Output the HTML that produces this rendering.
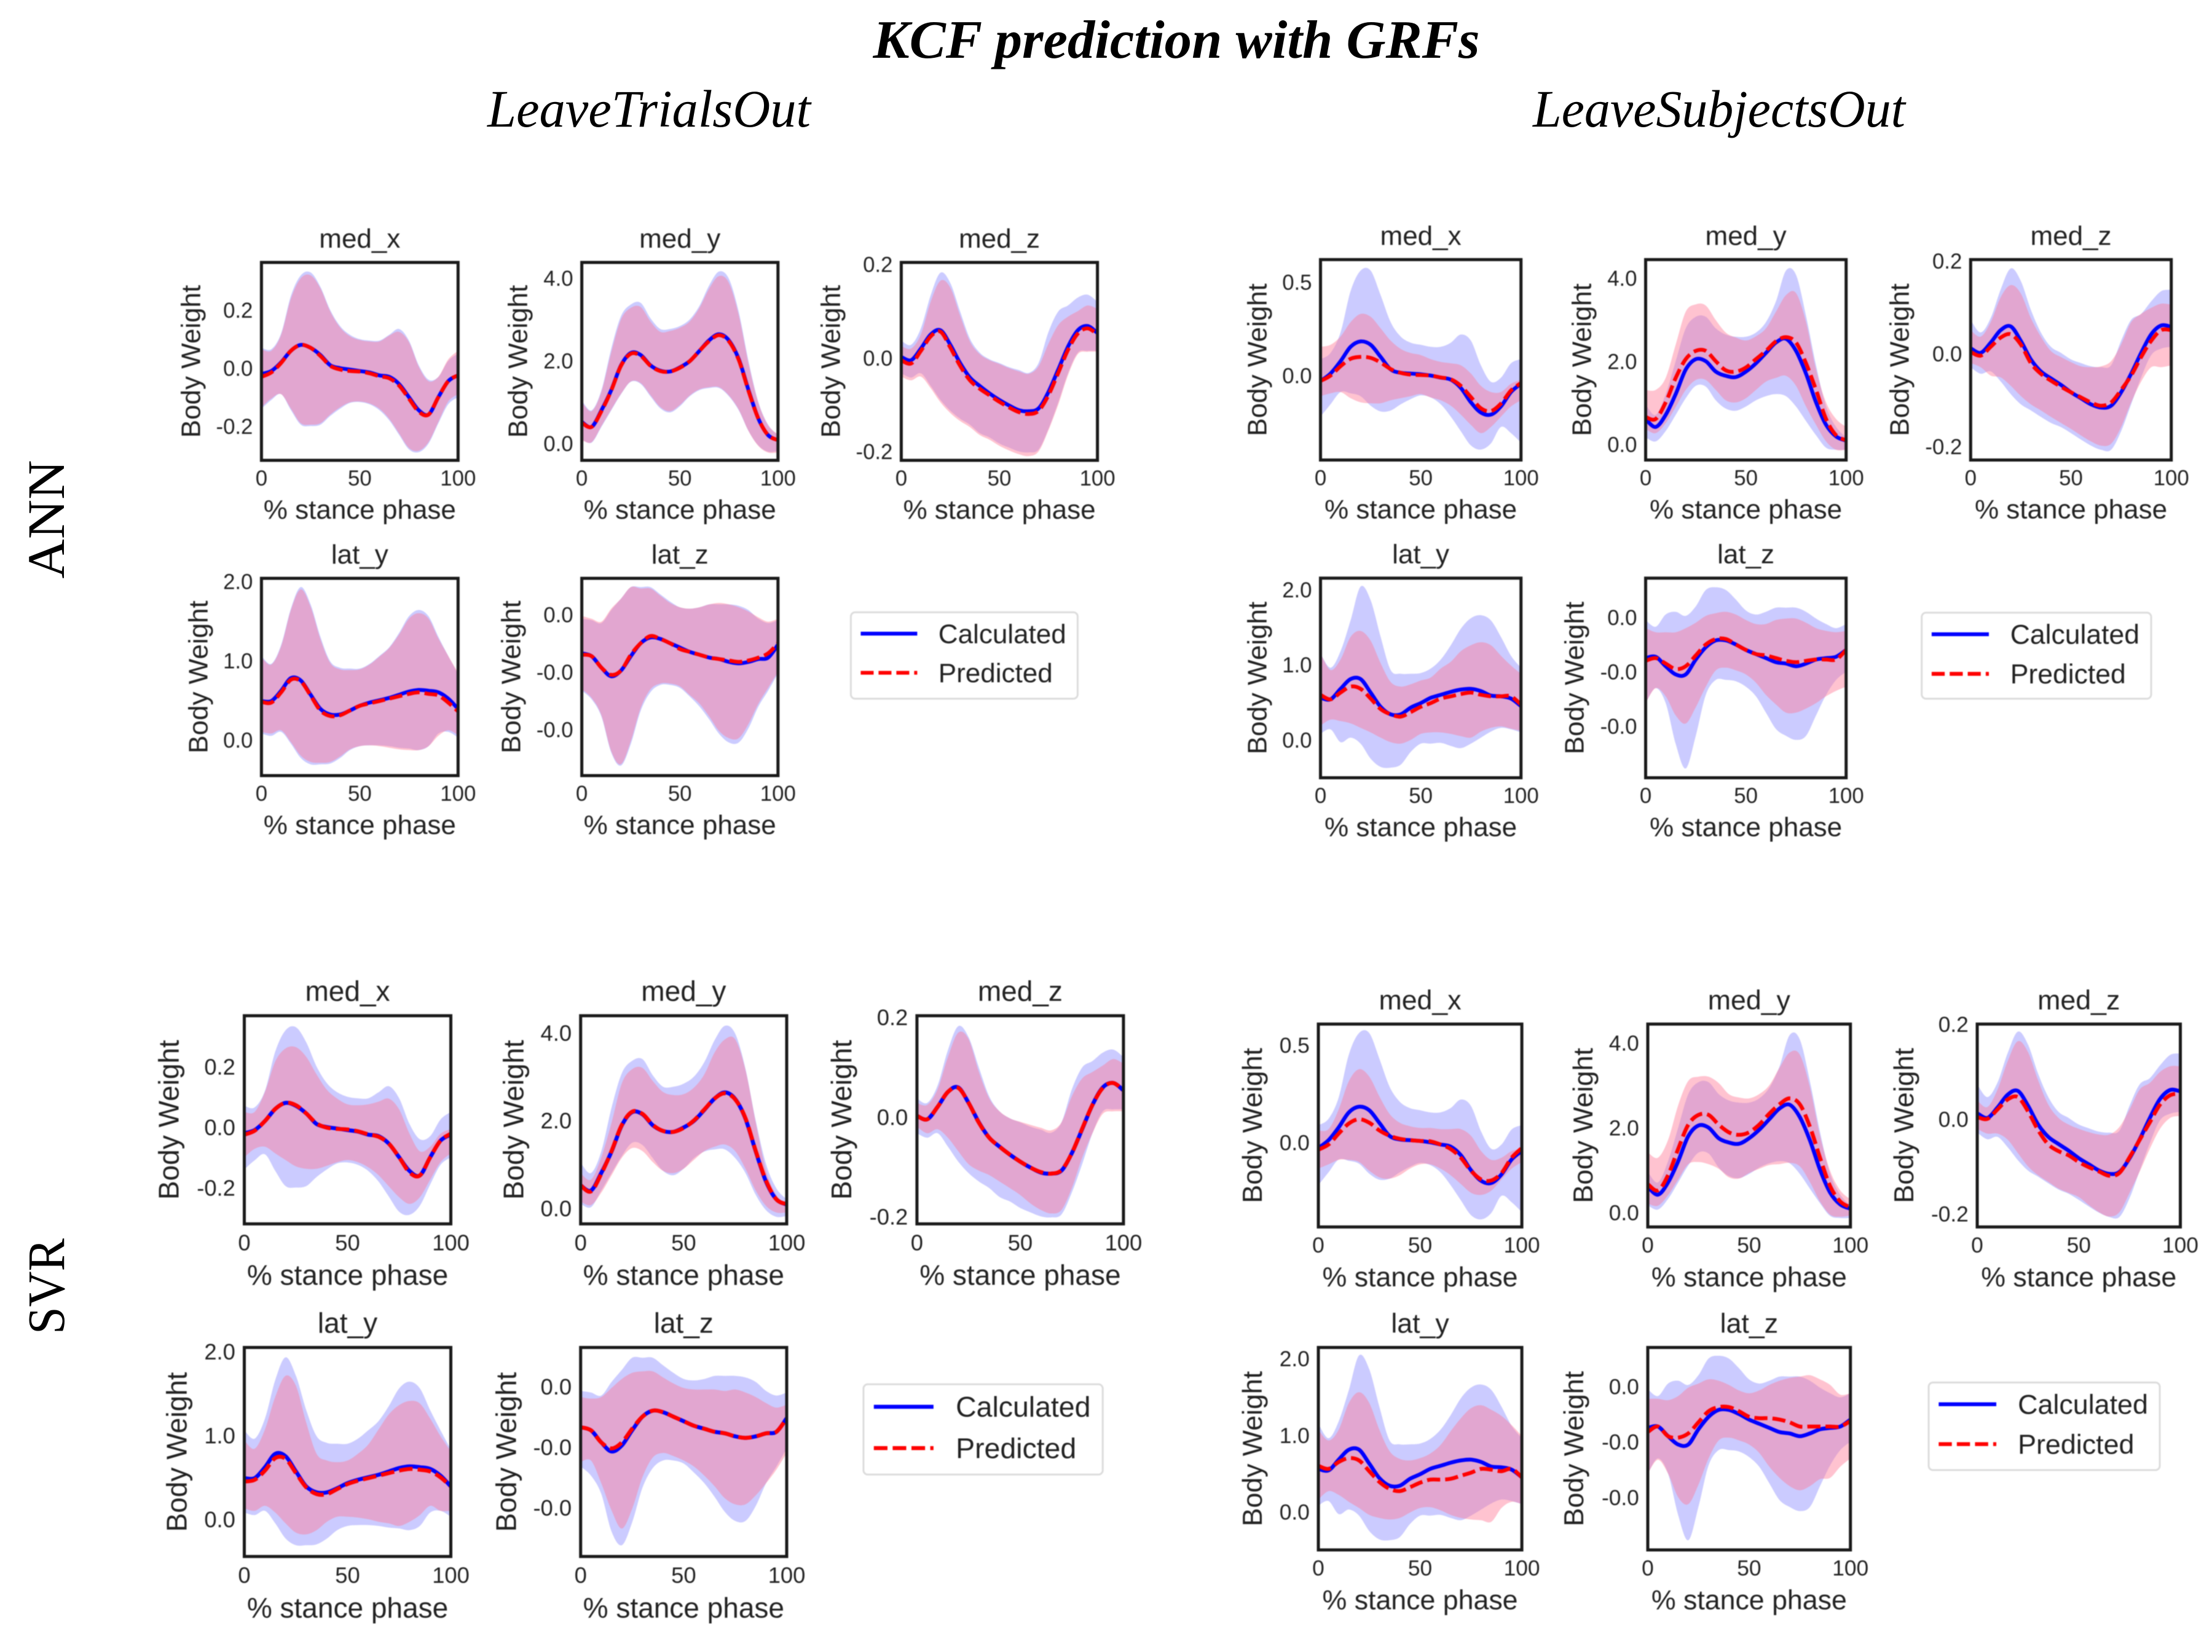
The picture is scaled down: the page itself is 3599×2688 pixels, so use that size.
<!DOCTYPE html>
<html lang="en">
<head>
<meta charset="utf-8">
<title>KCF prediction with GRFs</title>
<style>
html,body{margin:0;padding:0;background:#fff;}
svg{display:block;}
.t{font-family:"Liberation Sans",Arial,sans-serif;fill:#222222;}
.s{font-family:"Liberation Serif",serif;fill:#000;}
</style>
</head>
<body>
<svg id="figure" xmlns="http://www.w3.org/2000/svg" width="3599" height="2688" viewBox="0 0 3599 2688">
<rect x="0" y="0" width="3599" height="2688" fill="#ffffff"/>
<text class="s" x="1914" y="94" font-size="88" font-weight="bold" font-style="italic" text-anchor="middle" textLength="987" lengthAdjust="spacingAndGlyphs">KCF prediction with GRFs</text>
<text class="s" x="1056" y="206" font-size="86" font-style="italic" text-anchor="middle" textLength="526" lengthAdjust="spacingAndGlyphs">LeaveTrialsOut</text>
<text class="s" x="2797" y="206" font-size="86" font-style="italic" text-anchor="middle" textLength="606" lengthAdjust="spacingAndGlyphs">LeaveSubjectsOut</text>
<text class="s" transform="translate(104,845) rotate(-90)" font-size="86" text-anchor="middle" textLength="193" lengthAdjust="spacingAndGlyphs">ANN</text>
<text class="s" transform="translate(104,2093) rotate(-90)" font-size="86" text-anchor="middle" textLength="156" lengthAdjust="spacingAndGlyphs">SVR</text>
<defs id="clips"></defs>
<g id="charts" style="filter:blur(0.9px)"></g>
</svg>
<script>
const stancePct = [0,5,10,15,20,25,30,35,40,45,50,55,60,65,70,75,80,85,90,95,100];
const xTicks = [0,50,100];
const ticksMedXLto = [-0.2,0,0.2];
const ticksMedXLso = [0,0.5];
const ticksMedY = [0,2,4];
const ticksMedZ = [-0.2,0,0.2];
const ticksLatY = [0,1,2];
const ticksLatZ = [-0.08,-0.04,0];
const ticksLatZLabels = ['-0.0','-0.0','0.0'];
const legendLabels = ['Calculated','Predicted'];

/* Calculated, LeaveTrialsOut */
const ltoCalcMedXMean = [-0.02,-0.01,0.02,0.06,0.08,0.07,0.045,0.01,0,-0.005,-0.01,-0.015,-0.025,-0.03,-0.055,-0.1,-0.145,-0.16,-0.1,-0.045,-0.025];
const ltoCalcMedXUp = [0.07,0.065,0.12,0.25,0.32,0.33,0.28,0.2,0.145,0.115,0.1,0.095,0.095,0.115,0.135,0.095,0.01,-0.04,-0.03,0.025,0.05];
const ltoCalcMedXLo = [-0.14,-0.11,-0.09,-0.145,-0.195,-0.2,-0.195,-0.165,-0.14,-0.12,-0.117,-0.125,-0.145,-0.18,-0.23,-0.28,-0.29,-0.26,-0.19,-0.125,-0.1];
const ltoCalcMedYMean = [0.52,0.4,0.8,1.29,1.89,2.19,2.14,1.89,1.76,1.74,1.84,1.99,2.24,2.5,2.64,2.49,2.04,1.29,0.6,0.2,0.08];
const ltoCalcMedYUp = [1.04,0.8,1.29,2.29,3.08,3.36,3.4,3.03,2.77,2.77,2.84,3,3.33,3.83,4.16,3.98,3.18,1.99,1,0.45,0.2];
const ltoCalcMedYLo = [0.1,0.02,0.4,0.8,1.19,1.49,1.44,1.14,0.85,0.75,0.9,1.14,1.29,1.34,1.34,1.14,0.8,0.3,-0.05,-0.2,-0.18];
const ltoCalcMedZMean = [0.002,-0.005,0.02,0.05,0.059,0.028,-0.011,-0.042,-0.06,-0.076,-0.09,-0.102,-0.112,-0.114,-0.108,-0.073,-0.025,0.024,0.059,0.068,0.053];
const ltoCalcMedZUp = [0.037,0.028,0.063,0.134,0.182,0.16,0.099,0.041,0.011,-0.003,-0.011,-0.02,-0.026,-0.032,-0.011,0.055,0.099,0.112,0.129,0.135,0.12];
const ltoCalcMedZLo = [-0.033,-0.042,-0.033,-0.06,-0.09,-0.113,-0.13,-0.143,-0.161,-0.17,-0.183,-0.192,-0.2,-0.202,-0.196,-0.152,-0.095,-0.033,0.011,0.015,0.015];
const ltoCalcLatYMean = [0.49,0.49,0.62,0.78,0.75,0.57,0.39,0.32,0.32,0.37,0.43,0.47,0.5,0.53,0.57,0.61,0.63,0.62,0.6,0.52,0.39];
const ltoCalcLatYUp = [1.06,0.96,1.2,1.66,1.93,1.71,1.3,0.99,0.91,0.9,0.9,0.96,1.06,1.17,1.35,1.56,1.64,1.56,1.3,1.06,0.83];
const ltoCalcLatYLo = [0.08,0.05,0.1,-0.05,-0.23,-0.31,-0.31,-0.3,-0.23,-0.13,-0.08,-0.07,-0.07,-0.08,-0.1,-0.11,-0.13,-0.08,0.08,0.1,0.03];
const ltoCalcLatZMean = [-0.027,-0.029,-0.037,-0.043,-0.039,-0.029,-0.02,-0.016,-0.017,-0.02,-0.023,-0.026,-0.028,-0.03,-0.031,-0.033,-0.034,-0.033,-0.031,-0.03,-0.021];
const ltoCalcLatZUp = [-0.003,-0.004,-0.006,0.003,0.011,0.019,0.019,0.019,0.014,0.009,0.005,0.004,0.005,0.007,0.007,0.007,0.006,0.003,-0.003,-0.006,-0.004];
const ltoCalcLatZLo = [-0.053,-0.059,-0.071,-0.096,-0.105,-0.09,-0.067,-0.054,-0.049,-0.049,-0.051,-0.057,-0.064,-0.073,-0.083,-0.089,-0.089,-0.079,-0.064,-0.053,-0.041];

/* Calculated, LeaveSubjectsOut */
const lsoCalcMedXMean = [-0.029,0.011,0.077,0.154,0.183,0.165,0.1,0.033,0.015,0.011,0.007,0,-0.011,-0.022,-0.066,-0.143,-0.198,-0.209,-0.165,-0.088,-0.044];
const lsoCalcMedXUp = [0.088,0.121,0.231,0.452,0.562,0.562,0.43,0.286,0.209,0.176,0.165,0.154,0.154,0.176,0.22,0.187,0.055,-0.033,-0.011,0.066,0.088];
const lsoCalcMedXLo = [-0.22,-0.154,-0.088,-0.095,-0.11,-0.161,-0.192,-0.187,-0.154,-0.126,-0.106,-0.117,-0.154,-0.22,-0.298,-0.374,-0.396,-0.363,-0.275,-0.308,-0.359];
const lsoCalcMedYMean = [0.61,0.42,0.71,1.21,1.8,2.05,2,1.75,1.65,1.62,1.75,1.95,2.2,2.45,2.54,2.25,1.7,1.01,0.47,0.19,0.09];
const lsoCalcMedYUp = [0.96,0.71,1.21,2,2.79,3.07,3.07,2.79,2.64,2.59,2.59,2.69,2.94,3.44,4.18,4.08,3.09,1.9,0.91,0.42,0.17];
const lsoCalcMedYLo = [0.17,0.07,0.32,0.71,1.11,1.41,1.39,1.06,0.86,0.81,0.91,1.06,1.16,1.21,1.16,0.91,0.56,0.22,-0.08,-0.13,-0.13];
const lsoCalcMedZMean = [0.012,0.002,0.024,0.051,0.059,0.028,-0.012,-0.038,-0.053,-0.067,-0.083,-0.096,-0.109,-0.116,-0.112,-0.083,-0.043,0.002,0.042,0.061,0.058];
const lsoCalcMedZUp = [0.073,0.046,0.077,0.139,0.184,0.157,0.095,0.046,0.015,0.002,-0.012,-0.02,-0.027,-0.029,-0.025,0.028,0.073,0.086,0.113,0.135,0.138];
const lsoCalcMedZLo = [-0.029,-0.043,-0.038,-0.06,-0.087,-0.109,-0.122,-0.136,-0.149,-0.158,-0.171,-0.185,-0.198,-0.207,-0.207,-0.167,-0.109,-0.051,-0.003,0.011,0.015];
const lsoCalcLatYMean = [0.56,0.54,0.68,0.81,0.81,0.63,0.44,0.34,0.34,0.43,0.49,0.56,0.6,0.64,0.67,0.68,0.65,0.59,0.58,0.55,0.45];
const lsoCalcLatYUp = [1.15,0.96,1.18,1.59,2.04,1.86,1.37,0.93,0.88,0.88,0.89,0.95,1.07,1.26,1.48,1.62,1.66,1.59,1.37,1.12,0.96];
const lsoCalcLatYLo = [0.08,0.14,-0.03,0.03,-0.05,-0.25,-0.36,-0.37,-0.33,-0.16,-0.05,-0.05,-0.04,-0.08,-0.11,-0.05,0.03,0.11,0.16,0.14,0.1];
const lsoCalcLatZMean = [-0.03,-0.029,-0.036,-0.042,-0.042,-0.031,-0.022,-0.017,-0.017,-0.02,-0.024,-0.027,-0.03,-0.033,-0.034,-0.036,-0.034,-0.031,-0.03,-0.029,-0.024];
const lsoCalcLatZUp = [-0.002,-0.007,0.002,0.004,0.001,0.008,0.02,0.022,0.02,0.013,0.005,0.002,0.004,0.007,0.007,0.007,0.004,-0.001,-0.005,-0.008,-0.005];
const lsoCalcLatZLo = [-0.063,-0.052,-0.063,-0.093,-0.111,-0.087,-0.057,-0.046,-0.046,-0.047,-0.051,-0.058,-0.07,-0.082,-0.087,-0.09,-0.087,-0.072,-0.057,-0.046,-0.04];

/* Predicted, ANN LeaveTrialsOut */
const annLtoPredMedXMean = [-0.03,-0.015,0.018,0.06,0.08,0.07,0.042,0.008,-0.005,-0.01,-0.012,-0.018,-0.028,-0.035,-0.06,-0.105,-0.15,-0.16,-0.1,-0.045,-0.025];
const annLtoPredMedXUp = [0.065,0.06,0.115,0.24,0.31,0.32,0.275,0.195,0.14,0.11,0.097,0.092,0.092,0.112,0.125,0.09,0.005,-0.045,-0.03,0.03,0.06];
const annLtoPredMedXLo = [-0.135,-0.105,-0.09,-0.14,-0.19,-0.195,-0.19,-0.16,-0.135,-0.118,-0.115,-0.122,-0.14,-0.175,-0.225,-0.275,-0.285,-0.255,-0.185,-0.115,-0.09];
const annLtoPredMedYMean = [0.5,0.4,0.78,1.28,1.88,2.17,2.12,1.88,1.75,1.74,1.83,1.99,2.24,2.48,2.62,2.47,2.02,1.27,0.6,0.2,0.08];
const annLtoPredMedYUp = [1,0.78,1.25,2.2,3,3.28,3.3,2.95,2.7,2.72,2.8,2.95,3.28,3.75,4.05,3.88,3.1,1.93,0.98,0.44,0.22];
const annLtoPredMedYLo = [0.08,0.03,0.42,0.82,1.2,1.5,1.46,1.17,0.88,0.78,0.93,1.16,1.31,1.36,1.36,1.16,0.82,0.3,-0.06,-0.22,-0.22];
const annLtoPredMedZMean = [-0.005,-0.012,0.015,0.046,0.056,0.022,-0.017,-0.048,-0.066,-0.08,-0.094,-0.106,-0.116,-0.12,-0.113,-0.08,-0.032,0.017,0.052,0.063,0.05];
const annLtoPredMedZUp = [0.025,0.02,0.05,0.12,0.165,0.15,0.09,0.035,0.008,-0.005,-0.013,-0.022,-0.029,-0.034,-0.018,0.03,0.07,0.088,0.1,0.112,0.105];
const annLtoPredMedZLo = [-0.04,-0.048,-0.04,-0.065,-0.095,-0.118,-0.135,-0.148,-0.165,-0.175,-0.188,-0.198,-0.206,-0.21,-0.2,-0.155,-0.1,-0.037,0.008,0.013,0.013];
const annLtoPredLatYMean = [0.48,0.47,0.6,0.76,0.74,0.56,0.37,0.3,0.31,0.37,0.43,0.46,0.49,0.52,0.55,0.58,0.6,0.58,0.56,0.47,0.36];
const annLtoPredLatYUp = [1.04,0.95,1.18,1.64,1.9,1.68,1.27,0.97,0.89,0.88,0.89,0.95,1.05,1.16,1.33,1.53,1.6,1.53,1.28,1.06,0.85];
const annLtoPredLatYLo = [0.1,0.08,0.12,-0.03,-0.2,-0.28,-0.29,-0.28,-0.21,-0.12,-0.08,-0.07,-0.08,-0.1,-0.12,-0.13,-0.13,-0.08,0.05,0.12,0.06];
const annLtoPredLatZMean = [-0.028,-0.029,-0.037,-0.042,-0.039,-0.028,-0.02,-0.015,-0.017,-0.02,-0.024,-0.026,-0.028,-0.03,-0.031,-0.032,-0.033,-0.032,-0.03,-0.027,-0.02];
const annLtoPredLatZUp = [-0.001,-0.003,-0.005,0.004,0.011,0.019,0.018,0.018,0.013,0.008,0.005,0.004,0.005,0.007,0.008,0.007,0.005,0.002,-0.002,-0.005,-0.003];
const annLtoPredLatZLo = [-0.052,-0.058,-0.07,-0.095,-0.104,-0.088,-0.065,-0.052,-0.048,-0.048,-0.05,-0.056,-0.062,-0.071,-0.081,-0.086,-0.086,-0.076,-0.062,-0.051,-0.04];

/* Predicted, ANN LeaveSubjectsOut */
const annLsoPredMedXMean = [-0.029,0,0.05,0.09,0.1,0.095,0.07,0.035,0.015,0.005,0.003,0,-0.01,-0.02,-0.055,-0.115,-0.175,-0.19,-0.15,-0.08,-0.04];
const annLsoPredMedXUp = [0.154,0.165,0.209,0.286,0.33,0.315,0.253,0.187,0.143,0.121,0.11,0.088,0.073,0.066,0.055,0.011,-0.055,-0.088,-0.088,-0.044,-0.022];
const annLsoPredMedXLo = [-0.11,-0.095,-0.088,-0.121,-0.143,-0.148,-0.148,-0.132,-0.121,-0.11,-0.099,-0.117,-0.132,-0.161,-0.209,-0.264,-0.308,-0.275,-0.22,-0.165,-0.132];
const annLsoPredMedYMean = [0.66,0.61,1.01,1.6,2.05,2.25,2.25,2,1.78,1.75,1.85,2.05,2.25,2.48,2.58,2.45,1.95,1.31,0.61,0.22,0.1];
const annLsoPredMedYUp = [1.31,1.31,1.6,2.4,3.19,3.37,3.34,2.99,2.69,2.57,2.5,2.6,2.79,3.19,3.59,3.64,2.94,1.8,1.01,0.61,0.42];
const annLsoPredMedYLo = [0.37,0.27,0.51,0.9,1.31,1.55,1.55,1.31,1.06,1.01,1.11,1.31,1.51,1.6,1.65,1.41,0.91,0.47,0.07,-0.13,-0.13];
const annLsoPredMedZMean = [0.004,-0.004,0.015,0.035,0.042,0.02,-0.02,-0.043,-0.058,-0.071,-0.083,-0.094,-0.105,-0.112,-0.105,-0.078,-0.047,-0.007,0.028,0.051,0.051];
const annLsoPredMedZUp = [0.051,0.037,0.068,0.122,0.148,0.13,0.077,0.037,0.006,-0.007,-0.018,-0.027,-0.029,-0.027,-0.016,0.02,0.068,0.086,0.099,0.108,0.106];
const annLsoPredMedZLo = [-0.02,-0.029,-0.047,-0.051,-0.069,-0.091,-0.109,-0.122,-0.136,-0.149,-0.162,-0.176,-0.189,-0.198,-0.194,-0.158,-0.105,-0.06,-0.029,-0.029,-0.025];
const annLsoPredLatYMean = [0.6,0.54,0.63,0.71,0.68,0.55,0.41,0.34,0.31,0.37,0.44,0.49,0.55,0.58,0.61,0.63,0.6,0.58,0.58,0.58,0.47];
const annLsoPredLatYUp = [1.15,0.93,1.07,1.37,1.45,1.32,1.02,0.77,0.71,0.74,0.79,0.83,0.95,1.04,1.18,1.26,1.3,1.26,1.12,0.99,0.88];
const annLsoPredLatYLo = [0.19,0.27,0.25,0.22,0.16,0.1,0.03,-0.03,-0.05,0,0.08,0.1,0.1,0.08,0.05,0.03,0.11,0.16,0.18,0.15,0.12];
const annLsoPredLatZMean = [-0.032,-0.03,-0.034,-0.038,-0.036,-0.028,-0.02,-0.016,-0.016,-0.02,-0.024,-0.027,-0.028,-0.03,-0.032,-0.033,-0.032,-0.031,-0.031,-0.031,-0.024];
const annLsoPredLatZUp = [-0.008,-0.011,-0.011,-0.011,-0.008,-0.004,0.001,0.003,0.004,0.002,-0.002,-0.005,-0.005,-0.002,-0.001,-0.001,-0.004,-0.008,-0.01,-0.011,-0.01];
const annLsoPredLatZLo = [-0.063,-0.052,-0.058,-0.072,-0.078,-0.066,-0.051,-0.039,-0.037,-0.039,-0.042,-0.048,-0.057,-0.064,-0.07,-0.07,-0.067,-0.063,-0.058,-0.054,-0.051];

/* Predicted, SVR LeaveTrialsOut */
const svrLtoPredMedXMean = [-0.025,-0.012,0.02,0.06,0.08,0.072,0.045,0.012,-0.002,-0.006,-0.008,-0.014,-0.024,-0.032,-0.055,-0.1,-0.15,-0.16,-0.1,-0.045,-0.022];
const svrLtoPredMedXUp = [0.05,0.05,0.116,0.217,0.26,0.264,0.232,0.174,0.123,0.094,0.075,0.072,0.075,0.084,0.094,0.058,-0.022,-0.08,-0.065,-0.022,-0.007];
const svrLtoPredMedXLo = [-0.1,-0.072,-0.065,-0.087,-0.109,-0.13,-0.138,-0.138,-0.128,-0.116,-0.109,-0.116,-0.133,-0.159,-0.196,-0.232,-0.254,-0.232,-0.174,-0.116,-0.087];
const svrLtoPredMedYMean = [0.52,0.38,0.78,1.3,1.9,2.2,2.15,1.9,1.76,1.74,1.83,2,2.25,2.5,2.62,2.48,2.05,1.3,0.62,0.2,0.09];
const svrLtoPredMedYUp = [0.8,0.65,1.15,1.95,2.85,3.17,3.2,2.9,2.65,2.58,2.6,2.75,3.05,3.55,3.85,3.85,3.15,1.95,0.85,0.3,0.1];
const svrLtoPredMedYLo = [0.15,0.07,0.35,0.75,1.15,1.37,1.3,1.05,0.85,0.8,0.9,1.1,1.3,1.4,1.45,1.3,0.9,0.4,0.05,-0.1,-0.1];
const svrLtoPredMedZMean = [0.002,-0.005,0.02,0.05,0.058,0.028,-0.012,-0.042,-0.06,-0.076,-0.09,-0.102,-0.111,-0.114,-0.107,-0.073,-0.024,0.024,0.058,0.068,0.053];
const svrLtoPredMedZUp = [0.028,0.024,0.055,0.12,0.169,0.156,0.09,0.037,0.011,-0.003,-0.01,-0.016,-0.022,-0.027,-0.011,0.041,0.077,0.09,0.103,0.116,0.107];
const svrLtoPredMedZLo = [-0.02,-0.033,-0.025,-0.042,-0.069,-0.095,-0.108,-0.117,-0.13,-0.143,-0.157,-0.174,-0.187,-0.194,-0.187,-0.143,-0.082,-0.033,0.006,0.011,0.011];
const svrLtoPredLatYMean = [0.45,0.47,0.58,0.73,0.72,0.55,0.38,0.3,0.3,0.36,0.42,0.46,0.49,0.52,0.55,0.58,0.6,0.59,0.57,0.5,0.39];
const svrLtoPredLatYUp = [0.94,0.84,1.07,1.46,1.71,1.59,1.15,0.78,0.7,0.68,0.7,0.78,0.89,1.07,1.25,1.36,1.41,1.38,1.2,0.99,0.81];
const svrLtoPredLatYLo = [0.13,0.1,0.16,0.08,-0.05,-0.16,-0.18,-0.13,-0.03,0.03,0.03,0.02,0,-0.03,-0.05,-0.08,-0.03,0.05,0.16,0.1,0.1];
const svrLtoPredLatZMean = [-0.027,-0.029,-0.037,-0.041,-0.037,-0.028,-0.02,-0.016,-0.017,-0.02,-0.023,-0.026,-0.028,-0.03,-0.031,-0.033,-0.034,-0.033,-0.031,-0.03,-0.021];
const svrLtoPredLatZUp = [-0.007,-0.008,-0.007,-0.001,0.005,0.009,0.01,0.01,0.006,0.002,-0.001,-0.002,-0.002,-0.002,-0.003,-0.002,-0.004,-0.007,-0.011,-0.014,-0.012];
const svrLtoPredLatZLo = [-0.05,-0.049,-0.064,-0.082,-0.094,-0.081,-0.06,-0.047,-0.044,-0.046,-0.049,-0.053,-0.059,-0.066,-0.074,-0.078,-0.078,-0.072,-0.064,-0.055,-0.044];

/* Predicted, SVR LeaveSubjectsOut */
const svrLsoPredMedXMean = [-0.038,-0.011,0.045,0.097,0.119,0.101,0.061,0.034,0.018,0.011,0.007,0.005,-0.011,-0.034,-0.079,-0.146,-0.191,-0.196,-0.158,-0.079,-0.029];
const svrLsoPredMedXUp = [0.061,0.068,0.169,0.315,0.376,0.338,0.236,0.146,0.101,0.083,0.074,0.074,0.068,0.068,0.068,0.034,-0.045,-0.09,-0.079,-0.045,-0.034];
const svrLsoPredMedXLo = [-0.135,-0.113,-0.09,-0.09,-0.101,-0.146,-0.18,-0.187,-0.169,-0.135,-0.113,-0.113,-0.135,-0.169,-0.214,-0.259,-0.27,-0.248,-0.191,-0.135,-0.101];
const svrLsoPredMedYMean = [0.67,0.52,0.88,1.5,2.07,2.3,2.3,2.07,1.89,1.83,1.89,2.07,2.33,2.55,2.69,2.55,2.02,1.29,0.62,0.26,0.12];
const svrLsoPredMedYUp = [1.42,1.29,1.71,2.53,3.1,3.2,3.2,3.05,2.79,2.71,2.69,2.79,3,3.41,3.77,3.72,2.95,1.81,0.98,0.52,0.31];
const svrLsoPredMedYLo = [0.21,0.16,0.41,0.78,1.14,1.19,1.14,1.03,0.83,0.8,0.93,1.03,1.12,1.14,1.17,1.09,0.72,0.26,-0.05,-0.1,-0.07];
const svrLsoPredMedZMean = [0.004,0,0.02,0.041,0.046,0.016,-0.024,-0.054,-0.068,-0.077,-0.091,-0.102,-0.111,-0.12,-0.114,-0.081,-0.044,-0.007,0.03,0.05,0.053];
const svrLsoPredMedZUp = [0.039,0.025,0.062,0.122,0.164,0.141,0.081,0.03,0.002,-0.012,-0.021,-0.028,-0.033,-0.033,-0.017,0.02,0.062,0.076,0.099,0.111,0.111];
const svrLsoPredMedZLo = [-0.021,-0.031,-0.031,-0.044,-0.072,-0.1,-0.119,-0.133,-0.147,-0.156,-0.165,-0.182,-0.197,-0.206,-0.197,-0.156,-0.111,-0.063,-0.021,0.002,0.006];
const svrLsoPredLatYMean = [0.6,0.56,0.65,0.7,0.67,0.53,0.39,0.3,0.27,0.32,0.38,0.42,0.42,0.43,0.47,0.51,0.56,0.55,0.53,0.56,0.45];
const svrLsoPredLatYUp = [1.07,0.93,1.07,1.42,1.56,1.42,1.07,0.79,0.69,0.67,0.7,0.76,0.87,1.05,1.22,1.35,1.39,1.33,1.25,1.13,0.99];
const svrLsoPredLatYLo = [0.16,0.27,0.22,0.13,0.05,-0.04,-0.08,-0.1,-0.08,-0.01,0.05,0.06,0.02,-0.04,-0.08,-0.1,-0.11,-0.13,0.05,0.13,0.1];
const svrLsoPredLatZMean = [-0.033,-0.029,-0.036,-0.037,-0.034,-0.026,-0.018,-0.015,-0.015,-0.018,-0.022,-0.023,-0.023,-0.024,-0.026,-0.029,-0.029,-0.029,-0.029,-0.029,-0.025];
const svrLsoPredLatZUp = [-0.009,-0.009,-0.01,-0.007,-0.001,0.002,0.005,0.004,0.001,-0.003,-0.005,-0.003,0.001,0.004,0.006,0.007,0.008,0.005,0.001,-0.006,-0.005];
const svrLsoPredLatZLo = [-0.063,-0.053,-0.063,-0.08,-0.085,-0.071,-0.052,-0.039,-0.037,-0.039,-0.042,-0.048,-0.058,-0.066,-0.072,-0.075,-0.072,-0.067,-0.066,-0.058,-0.052];

const ltoCalc = {
  med_x:[ltoCalcMedXMean,ltoCalcMedXUp,ltoCalcMedXLo],
  med_y:[ltoCalcMedYMean,ltoCalcMedYUp,ltoCalcMedYLo],
  med_z:[ltoCalcMedZMean,ltoCalcMedZUp,ltoCalcMedZLo],
  lat_y:[ltoCalcLatYMean,ltoCalcLatYUp,ltoCalcLatYLo],
  lat_z:[ltoCalcLatZMean,ltoCalcLatZUp,ltoCalcLatZLo]
};
const lsoCalc = {
  med_x:[lsoCalcMedXMean,lsoCalcMedXUp,lsoCalcMedXLo],
  med_y:[lsoCalcMedYMean,lsoCalcMedYUp,lsoCalcMedYLo],
  med_z:[lsoCalcMedZMean,lsoCalcMedZUp,lsoCalcMedZLo],
  lat_y:[lsoCalcLatYMean,lsoCalcLatYUp,lsoCalcLatYLo],
  lat_z:[lsoCalcLatZMean,lsoCalcLatZUp,lsoCalcLatZLo]
};
const annLtoPred = {
  med_x:[annLtoPredMedXMean,annLtoPredMedXUp,annLtoPredMedXLo],
  med_y:[annLtoPredMedYMean,annLtoPredMedYUp,annLtoPredMedYLo],
  med_z:[annLtoPredMedZMean,annLtoPredMedZUp,annLtoPredMedZLo],
  lat_y:[annLtoPredLatYMean,annLtoPredLatYUp,annLtoPredLatYLo],
  lat_z:[annLtoPredLatZMean,annLtoPredLatZUp,annLtoPredLatZLo]
};
const annLsoPred = {
  med_x:[annLsoPredMedXMean,annLsoPredMedXUp,annLsoPredMedXLo],
  med_y:[annLsoPredMedYMean,annLsoPredMedYUp,annLsoPredMedYLo],
  med_z:[annLsoPredMedZMean,annLsoPredMedZUp,annLsoPredMedZLo],
  lat_y:[annLsoPredLatYMean,annLsoPredLatYUp,annLsoPredLatYLo],
  lat_z:[annLsoPredLatZMean,annLsoPredLatZUp,annLsoPredLatZLo]
};
const svrLtoPred = {
  med_x:[svrLtoPredMedXMean,svrLtoPredMedXUp,svrLtoPredMedXLo],
  med_y:[svrLtoPredMedYMean,svrLtoPredMedYUp,svrLtoPredMedYLo],
  med_z:[svrLtoPredMedZMean,svrLtoPredMedZUp,svrLtoPredMedZLo],
  lat_y:[svrLtoPredLatYMean,svrLtoPredLatYUp,svrLtoPredLatYLo],
  lat_z:[svrLtoPredLatZMean,svrLtoPredLatZUp,svrLtoPredLatZLo]
};
const svrLsoPred = {
  med_x:[svrLsoPredMedXMean,svrLsoPredMedXUp,svrLsoPredMedXLo],
  med_y:[svrLsoPredMedYMean,svrLsoPredMedYUp,svrLsoPredMedYLo],
  med_z:[svrLsoPredMedZMean,svrLsoPredMedZUp,svrLsoPredMedZLo],
  lat_y:[svrLsoPredLatYMean,svrLsoPredLatYUp,svrLsoPredLatYLo],
  lat_z:[svrLsoPredLatZMean,svrLsoPredLatZUp,svrLsoPredLatZLo]
};

/* Layout only: where each small multiple sits, its axis limits and fonts */
const groups = [
  {id:'ann-lto', calc:ltoCalc, pred:annLtoPred, font:44,
   legend:{x:1384.4,y:996.3,w:369,h:140.6},
   panels:{
    med_x:{box:[425.4,427,319.9,322], lim:[-0.318,0.3645], ticks:ticksMedXLto, yl:100},
    med_y:{box:[946.6,427,319.2,322], lim:[-0.408,4.378], ticks:ticksMedY, yl:89},
    med_z:{box:[1466.4,427,319.2,322], lim:[-0.219,0.204], ticks:ticksMedZ, yl:100},
    lat_y:{box:[425.4,941,319.9,321], lim:[-0.452,2.04], ticks:ticksLatY, yl:88},
    lat_z:{box:[946.6,941,319.2,321], lim:[-0.112,0.0251], ticks:ticksLatZ, tickLabels:ticksLatZLabels, yl:100}}},
  {id:'ann-lso', calc:lsoCalc, pred:annLsoPred, font:44,
   legend:{x:3126.7,y:996.9,w:373.3,h:140},
   panels:{
    med_x:{box:[2148.5,422.4,326.2,326.1], lim:[-0.452,0.621], ticks:ticksMedXLso, yl:88},
    med_y:{box:[2677.5,422.4,326.2,326.1], lim:[-0.376,4.446], ticks:ticksMedY, yl:89},
    med_z:{box:[3206.3,422.4,326.4,326.1], lim:[-0.229,0.203], ticks:ticksMedZ, yl:101},
    lat_y:{box:[2148.5,940.7,326.2,324.8], lim:[-0.504,2.153], ticks:ticksLatY, yl:88},
    lat_z:{box:[2677.5,940.7,326.2,324.8], lim:[-0.1178,0.0287], ticks:ticksLatZ, tickLabels:ticksLatZLabels, yl:101}}},
  {id:'svr-lto', calc:ltoCalc, pred:svrLtoPred, font:46,
   legend:{x:1404.9,y:2252.4,w:389.3,h:146.8},
   panels:{
    med_x:{box:[397.5,1652.7,336,338.7], lim:[-0.32,0.368], ticks:ticksMedXLto, yl:107},
    med_y:{box:[944.7,1652.7,335.3,338.7], lim:[-0.36,4.39], ticks:ticksMedY, yl:93},
    med_z:{box:[1491.9,1652.7,336,338.7], lim:[-0.215,0.203], ticks:ticksMedZ, yl:107},
    lat_y:{box:[397.5,2192.5,336,340.1], lim:[-0.444,2.047], ticks:ticksLatY, yl:94},
    lat_z:{box:[944.7,2192.5,335.3,340.1], lim:[-0.1125,0.0258], ticks:ticksLatZ, tickLabels:ticksLatZLabels, yl:105}}},
  {id:'svr-lso', calc:lsoCalc, pred:svrLsoPred, font:44.7,
   legend:{x:3138,y:2249.5,w:376,h:142.5},
   panels:{
    med_x:{box:[2145,1666.3,331.1,330.1], lim:[-0.435,0.608], ticks:ticksMedXLso, yl:92},
    med_y:{box:[2681,1666.3,329.7,330.1], lim:[-0.34,4.44], ticks:ticksMedY, yl:90},
    med_z:{box:[3217,1666.3,330.5,330.1], lim:[-0.228,0.2], ticks:ticksMedZ, yl:104},
    lat_y:{box:[2145,2192.5,331.1,329.4], lim:[-0.497,2.143], ticks:ticksLatY, yl:92},
    lat_z:{box:[2681,2192.5,329.7,329.4], lim:[-0.118,0.028], ticks:ticksLatZ, tickLabels:ticksLatZLabels, yl:105}}}
];

const NS = 'http://www.w3.org/2000/svg';
const chartsRoot = document.getElementById('charts');
const clipsRoot = document.getElementById('clips');

function mk(tag, parent, attrs){
  const el = document.createElementNS(NS, tag);
  for (const k in attrs) el.setAttribute(k, attrs[k]);
  parent.appendChild(el);
  return el;
}
function smoothSegments(pts, start){
  let d = start ? 'M' + pts[0][0].toFixed(1) + ' ' + pts[0][1].toFixed(1) : 'L' + pts[0][0].toFixed(1) + ' ' + pts[0][1].toFixed(1);
  for (let i = 0; i < pts.length - 1; i++){
    const p0 = pts[Math.max(i - 1, 0)], p1 = pts[i], p2 = pts[i + 1], p3 = pts[Math.min(i + 2, pts.length - 1)];
    const c1x = p1[0] + (p2[0] - p0[0]) / 6, c1y = p1[1] + (p2[1] - p0[1]) / 6;
    const c2x = p2[0] - (p3[0] - p1[0]) / 6, c2y = p2[1] - (p3[1] - p1[1]) / 6;
    d += 'C' + c1x.toFixed(1) + ' ' + c1y.toFixed(1) + ' ' + c2x.toFixed(1) + ' ' + c2y.toFixed(1) + ' ' + p2[0].toFixed(1) + ' ' + p2[1].toFixed(1);
  }
  return d;
}
function linePath(values, sx, sy){
  return smoothSegments(values.map((v, i) => [sx(stancePct[i]), sy(v)]), true);
}
function bandPath(up, lo, sx, sy){
  const upper = up.map((v, i) => [sx(stancePct[i]), sy(v)]);
  const lower = lo.map((v, i) => [sx(stancePct[i]), sy(v)]).reverse();
  return smoothSegments(upper, true) + smoothSegments(lower, false) + 'Z';
}

function drawPanel(group, channel, parent){
  const cfg = group.panels[channel];
  const [bx, by, bw, bh] = cfg.box;
  const [ymin, ymax] = cfg.lim;
  const F = group.font, K = F / 44, tickSize = F * 0.79;
  const sx = p => bx + p / 100 * bw;
  const sy = v => by + bh - (v - ymin) / (ymax - ymin) * bh;
  const calc = group.calc[channel], pred = group.pred[channel];
  const key = group.id + '-' + channel;

  const g = mk('g', parent, {});
  
  

  const clip = mk('clipPath', clipsRoot, {id:'clip-' + key});
  mk('rect', clip, {x:bx, y:by, width:bw, height:bh});

  const plot = mk('g', g, {'clip-path':'url(#clip-' + key + ')'});
  
  

  const calcBand = mk('path', plot, {d:bandPath(calc[1], calc[2], sx, sy), fill:'#cbcbff'});
  
  

  const predBand = mk('path', plot, {d:bandPath(pred[1], pred[2], sx, sy), fill:'#ff7794', 'fill-opacity':'0.44'});
  
  

  const calcLine = mk('path', plot, {d:linePath(calc[0], sx, sy), fill:'none', stroke:'#0000ff', 'stroke-width':6.2 * K});
  
  

  const predLine = mk('path', plot, {d:linePath(pred[0], sx, sy), fill:'none', stroke:'#ff0000', 'stroke-width':6.2 * K, 'stroke-dasharray':(21 * K) + ' ' + (8 * K)});
  
  

  const frame = mk('rect', g, {x:bx, y:by, width:bw, height:bh, fill:'none', stroke:'#1a1a1a', 'stroke-width':5});
  
  

  const title = mk('text', g, {x:bx + bw / 2, y:by - 24, 'font-size':F, 'text-anchor':'middle', class:'t'});
  title.textContent = channel;
  
  

  xTicks.forEach(t => {
    const label = mk('text', g, {x:sx(t), y:by + bh + 41 * K, 'font-size':tickSize, 'text-anchor':'middle', class:'t'});
    label.textContent = String(t);
    
    
  });

  cfg.ticks.forEach((t, i) => {
    const label = mk('text', g, {x:bx - 14 * K, y:sy(t) + tickSize * 0.36, 'font-size':tickSize, 'text-anchor':'end', class:'t'});
    label.textContent = cfg.tickLabels ? cfg.tickLabels[i] : t.toFixed(1);
    
    
  });

  const xLabel = mk('text', g, {x:bx + bw / 2, y:by + bh + 95 * K, 'font-size':F, 'text-anchor':'middle', class:'t'});
  xLabel.textContent = '% stance phase';
  
  

  const yLabel = mk('text', g, {transform:'translate(' + (bx - cfg.yl) + ',' + (by + bh / 2) + ') rotate(-90)', 'font-size':F, 'text-anchor':'middle', class:'t'});
  yLabel.textContent = 'Body Weight';
  
  
}

function drawLegend(group, parent){
  const L = group.legend, K = L.w / 369;
  const g = mk('g', parent, {});
  
  

  const box = mk('rect', g, {x:L.x, y:L.y, width:L.w, height:L.h, rx:7, ry:7, fill:'#ffffff', stroke:'#dcdcdc', 'stroke-width':3});
  
  

  const line1 = mk('line', g, {x1:L.x + 16 * K, x2:L.x + 108 * K, y1:L.y + 34.7 * K, y2:L.y + 34.7 * K, stroke:'#0000ff', 'stroke-width':6.2 * K});
  
  

  const text1 = mk('text', g, {x:L.x + 142.4 * K, y:L.y + 50 * K, 'font-size':44 * K, class:'t'});
  text1.textContent = legendLabels[0];
  
  

  const line2 = mk('line', g, {x1:L.x + 16 * K, x2:L.x + 108 * K, y1:L.y + 98.4 * K, y2:L.y + 98.4 * K, stroke:'#ff0000', 'stroke-width':6.2 * K, 'stroke-dasharray':(21 * K) + ' ' + (8 * K)});
  
  

  const text2 = mk('text', g, {x:L.x + 142.4 * K, y:L.y + 113.8 * K, 'font-size':44 * K, class:'t'});
  text2.textContent = legendLabels[1];
  
  
}

groups.forEach(group => {
  const g = mk('g', chartsRoot, {});
  
  
  ['med_x','med_y','med_z','lat_y','lat_z'].forEach(ch => drawPanel(group, ch, g));
  drawLegend(group, g);
});
</script>
</body>
</html>
